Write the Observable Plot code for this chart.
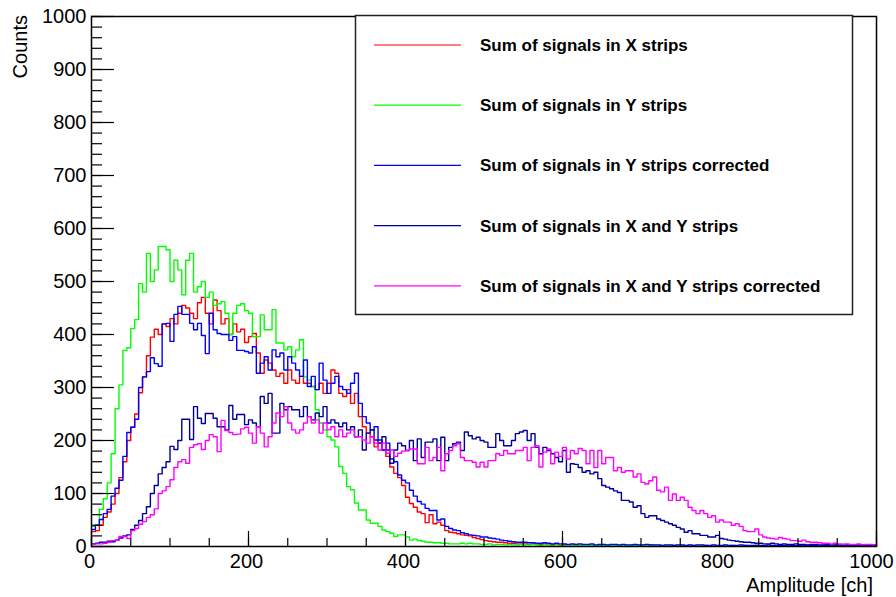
<!DOCTYPE html>
<html><head><meta charset="utf-8">
<script src="https://cdn.jsdelivr.net/npm/d3@7"></script>
<script src="https://cdn.jsdelivr.net/npm/@observablehq/plot@0.6"></script>
<style>
html,body{margin:0;padding:0;background:#fff;}
#chart{position:relative;width:896px;height:597px;}
</style></head><body><div id="chart"></div>
<script>
// Bin width (channels) of the histograms below (200 bins over 0..1000)
const binWidth = 5;

// Sum of signals in X strips (red)
const xStrips = [
  28,30,40,55,65,80,100,130,160,200,
  225,250,290,320,360,395,410,400,420,415,
  430,420,440,455,450,440,430,460,470,440,
  420,465,445,420,430,400,420,405,410,385,
  396,402,365,327,352,346,333,321,327,308,
  333,314,308,321,308,308,302,296,308,289,
  308,333,327,289,283,296,270,289,245,226,
  214,207,188,195,182,170,150,138,130,115,
  93,81,74,65,62,45,60,43,46,40,
  30,27,26,24,22,21,20,17,15,13,
  11,10,9,8,8,7,6,6,5,5,
  5,4,5,4,4,5,3,4,4,3,
  4,3,3,4,3,2,3,3,2,3,
  3,2,3,2,2,3,2,2,3,2,
  2,2,3,2,2,2,1,2,2,2,
  2,1,2,2,1,2,2,1,2,1,
  1,2,1,2,1,1,2,1,1,2,
  1,1,2,1,1,1,2,1,1,1,
  1,2,1,1,1,1,1,2,1,1,
  1,1,1,1,2,1,1,1,1,1
];
// Sum of signals in Y strips (green)
const yStrips = [
  38,40,70,90,120,175,260,305,370,375,
  411,428,496,480,553,500,522,566,566,560,
  500,540,522,475,540,553,480,490,500,470,
  480,455,458,462,440,400,440,455,458,445,
  440,396,396,437,409,409,447,384,384,371,
  377,358,371,390,320,314,302,258,233,220,
  207,201,188,151,138,113,107,82,69,69,
  50,44,44,38,31,28,25,19,22,22,
  18,12,14,11,10,8,8,7,7,6,
  6,5,5,5,6,5,6,5,5,4,
  4,5,3,4,4,3,4,3,3,4,
  3,3,4,3,2,3,3,2,3,3,
  2,3,2,2,3,2,2,3,2,2,
  2,2,3,2,2,1,2,2,2,1,
  2,2,1,2,2,1,2,1,2,2,
  1,2,1,1,2,1,2,1,1,2,
  1,1,2,1,1,2,1,1,1,2,
  1,1,1,2,1,1,1,1,2,1,
  1,1,1,1,1,2,1,1,1,1,
  1,1,2,1,1,1,1,1,1,1
];
// Sum of signals in Y strips corrected (blue)
const yStripsCorr = [
  32,40,51,62,70,95,110,125,170,215,
  225,240,300,320,330,356,345,340,420,421,
  387,438,453,438,438,421,409,421,398,364,
  440,409,402,400,400,389,396,370,370,368,
  365,377,327,346,358,333,371,358,365,333,
  358,346,333,321,352,302,321,296,346,314,
  289,308,321,302,296,289,308,327,270,245,
  233,220,226,201,182,195,165,160,135,125,
  120,106,95,85,80,72,68,68,50,52,
  38,34,31,30,26,24,22,21,20,18,
  18,16,15,14,12,11,10,9,8,8,
  8,7,7,6,6,7,6,5,6,5,
  5,4,5,4,5,4,4,5,3,4,
  4,3,4,4,3,4,3,3,4,3,
  3,4,3,3,3,2,3,3,2,3,
  3,2,3,2,3,3,2,2,3,2,
  2,3,2,2,2,3,2,2,2,2,
  2,2,3,2,2,2,2,1,2,2,
  2,1,2,2,2,1,2,2,1,2,
  1,2,2,1,2,1,2,1,2,1
];
// Sum of signals in X and Y strips (navy)
const xyStrips = [
  5,6,8,8,10,9,12,16,20,22,
  32,40,49,62,75,100,115,137,149,160,
  189,183,200,240,240,202,264,242,232,251,
  251,242,226,226,220,266,240,249,249,230,
  239,233,226,283,270,289,214,214,270,258,
  264,258,258,245,264,245,239,252,245,264,
  233,239,233,226,233,220,226,207,220,182,
  214,220,201,195,207,182,157,182,195,190,
  181,200,162,203,168,197,197,203,162,206,
  162,187,194,197,181,216,209,203,206,200,
  197,187,187,213,200,190,190,200,213,216,
  219,200,213,187,175,187,181,175,168,160,
  181,140,156,155,149,140,143,137,140,128,
  115,112,109,105,102,87,87,84,74,77,
  62,55,58,58,52,49,46,43,40,36,
  33,27,30,24,24,21,21,18,18,21,
  15,14,12,11,10,9,8,8,7,6,
  6,5,5,6,5,4,5,4,4,5,
  4,4,3,4,4,3,3,4,3,3,
  3,4,3,3,2,3,3,2,3,3
];
// Sum of signals in X and Y strips corrected (magenta)
const xyStripsCorr = [
  4,5,5,6,8,11,12,19,19,15,
  30,34,42,47,55,60,71,100,105,113,
  126,149,160,164,157,187,192,194,183,200,
  211,207,179,238,219,215,211,212,222,225,
  214,195,226,214,188,207,233,252,245,264,
  233,220,214,220,233,245,233,239,214,233,
  220,226,207,220,207,214,220,207,207,201,
  195,207,195,182,195,176,182,170,176,180,
  181,184,184,156,156,187,162,168,187,143,
  175,181,190,194,168,162,162,159,150,159,
  150,162,162,175,172,181,175,175,181,181,
  187,162,187,190,150,178,184,156,178,170,
  187,165,181,175,185,181,156,181,149,181,
  156,168,168,143,149,140,143,143,131,137,
  121,118,124,131,106,103,112,87,99,87,
  93,87,74,68,62,68,62,55,58,46,
  50,46,46,40,43,38,30,28,28,33,
  22,18,16,15,14,17,15,14,11,11,
  10,12,9,8,8,7,6,6,5,6,
  5,4,5,4,4,5,3,4,4,3
];

const seriesNames = [
  "Sum of signals in X strips",
  "Sum of signals in Y strips",
  "Sum of signals in Y strips corrected",
  "Sum of signals in X and Y strips",
  "Sum of signals in X and Y strips corrected"
];
const seriesValues = [xStrips, yStrips, yStripsCorr, xyStrips, xyStripsCorr];
const seriesColors = ["#ff0000", "#00ff00", "#0000ff", "#000099", "#ff00ff"];

const xTickLabels = [0, 200, 400, 600, 800, 1000];
const yTickLabels = [0, 100, 200, 300, 400, 500, 600, 700, 800, 900, 1000];
const xMinorTicks = d3.range(0, 1001, 50);
const yMinorTicks = d3.range(0, 1001, 20);
const xTitle = "Amplitude [ch]";
const yTitle = "Counts";

// Build step table (bin left edges + closing right edge)
const rows = [];
seriesValues.forEach((vals, si) => {
  vals.forEach((v, i) => rows.push({series: seriesNames[si], x: i * binWidth, y: v}));
  rows.push({series: seriesNames[si], x: vals.length * binWidth, y: vals[vals.length - 1]});
});

const W = 896, H = 597, mL = 91, mR = 20, mT = 16, mB = 51;
const fw = W - mL - mR, fh = H - mT - mB;
const font = "'Liberation Sans', Arial, Helvetica, sans-serif";
const fmt = d => String(d);

const plot = Plot.plot({
  width: W, height: H,
  marginLeft: mL, marginRight: mR, marginTop: mT, marginBottom: mB,
  style: {fontFamily: font, color: "#000", background: "#fff"},
  x: {domain: [0, 1000]},
  y: {domain: [0, 1000]},
  color: {domain: seriesNames, range: seriesColors},
  marks: [
    Plot.line(rows, {x: "x", y: "y", z: "series", stroke: "series", curve: "step-after", strokeWidth: 1.4}),
    Plot.tickX(xMinorTicks, {x: d => d, insetTop: fh - 8, stroke: "#000", strokeWidth: 1.2}),
    Plot.tickX(xTickLabels, {x: d => d, insetTop: fh - 15, stroke: "#000", strokeWidth: 1.2}),
    Plot.tickY(yMinorTicks, {y: d => d, insetRight: fw - 11, stroke: "#000", strokeWidth: 1.2}),
    Plot.tickY(yTickLabels, {y: d => d, insetRight: fw - 23, stroke: "#000", strokeWidth: 1.2}),
    Plot.axisX(xTickLabels.slice(0, -1), {tickSize: 0, tickPadding: 7, fontSize: 20, label: null, fill: "#000", tickFormat: fmt, dx: -2}),
    Plot.axisX(xTickLabels.slice(-1), {tickSize: 0, tickPadding: 7, fontSize: 20, label: null, fill: "#000", tickFormat: fmt, dx: -5}),
    Plot.axisY(yTickLabels, {tickSize: 0, tickPadding: 5, fontSize: 20, label: null, fill: "#000", tickFormat: fmt}),
    Plot.frame({stroke: "#000", strokeWidth: 1.5})
  ]
});
document.getElementById("chart").appendChild(plot);

const svg = d3.select(plot);
// Axis titles
svg.append("text").attr("transform", "translate(27,15) rotate(-90)")
  .attr("text-anchor", "end").attr("font-family", font).attr("font-size", 20).attr("fill", "#000").text(yTitle);
svg.append("text").attr("x", 873).attr("y", 592)
  .attr("text-anchor", "end").attr("font-family", font).attr("font-size", 20).attr("fill", "#000").text(xTitle);

// Legend
const lg = svg.append("g");
lg.append("rect").attr("x", 355.5).attr("y", 15.5).attr("width", 497).attr("height", 299)
  .attr("fill", "#fff").attr("stroke", "#222").attr("stroke-width", 1.5);
seriesNames.forEach((name, i) => {
  const yy = 45 + i * 60.2;
  lg.append("line").attr("x1", 374).attr("x2", 461).attr("y1", yy).attr("y2", yy)
    .attr("stroke", seriesColors[i]).attr("stroke-width", 1.2);
  lg.append("text").attr("x", 480).attr("y", yy + 6).attr("text-anchor", "start")
    .attr("font-family", font).attr("font-size", 17).attr("font-weight", "bold").attr("fill", "#000").text(name);
});
</script></body></html>
